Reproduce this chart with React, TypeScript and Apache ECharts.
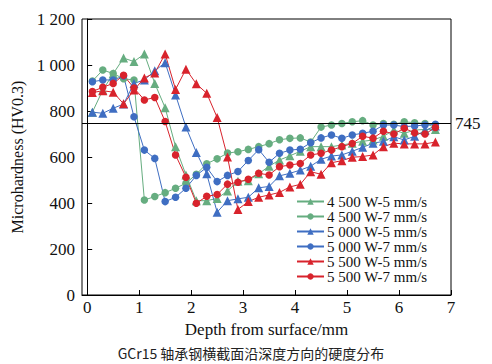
import React, { useEffect, useRef } from "react";
import * as echarts from "echarts";

const depth = [0.1, 0.3, 0.5, 0.7, 0.9, 1.1, 1.3, 1.5, 1.7, 1.9, 2.1, 2.3, 2.5, 2.7, 2.9, 3.1, 3.3, 3.5, 3.7, 3.9, 4.1, 4.3, 4.5, 4.7, 4.9, 5.1, 5.3, 5.5, 5.7, 5.9, 6.1, 6.3, 6.5, 6.7];

const g45_5 = [795, 891, 962, 1030, 1015, 1048, 920, 814, 645, 522, 410, 410, 420, 452, 495, 497, 527, 560, 587, 605, 625, 645, 645, 645, 652, 660, 668, 674, 690, 717, 703, 717, 720, 720];
const g45_7 = [930, 978, 963, 940, 935, 413, 428, 445, 464, 486, 525, 571, 592, 617, 623, 633, 645, 658, 675, 681, 683, 665, 730, 739, 746, 753, 758, 739, 746, 742, 753, 749, 746, 728];
const b50_5 = [795, 790, 812, 830, 920, 935, 975, 1010, 870, 730, 620, 527, 360, 410, 418, 425, 466, 472, 518, 529, 543, 560, 590, 604, 609, 625, 642, 660, 668, 688, 674, 690, 715, 735];
const b50_7 = [927, 935, 935, 952, 775, 630, 594, 406, 425, 464, 520, 555, 493, 520, 537, 585, 632, 577, 616, 630, 634, 662, 683, 696, 681, 696, 703, 712, 739, 739, 732, 735, 739, 742];
const r55_5 = [880, 888, 882, 831, 891, 944, 965, 1048, 894, 982, 918, 877, 772, 600, 372, 406, 425, 435, 446, 470, 481, 536, 525, 575, 584, 599, 602, 609, 645, 660, 657, 657, 657, 665];
const r55_7 = [885, 903, 920, 955, 900, 848, 859, 754, 609, 512, 399, 429, 437, 482, 490, 503, 529, 522, 558, 565, 572, 609, 616, 630, 645, 659, 690, 682, 712, 700, 725, 705, 700, 728];

const names = ["4 500 W-5 mm/s", "4 500 W-7 mm/s", "5 000 W-5 mm/s", "5 000 W-7 mm/s", "5 500 W-5 mm/s", "5 500 W-7 mm/s"];
const xTicks = [0, 1, 2, 3, 4, 5, 6, 7];
const refValue = 745;
const caption = "GCr15 轴承钢横截面沿深度方向的硬度分布";

const GREEN = "#66ad80";
const BLUE = "#3f6ec2";
const RED = "#d8232c";
const SERIF = "Times New Roman, Liberation Serif, DejaVu Serif, serif";

export default function App() {
  const ref = useRef<HTMLDivElement>(null);
  useEffect(() => {
    if (!ref.current) return;
    const chart = echarts.init(ref.current, null, { renderer: "svg" });
    const mk = (name: string, data: number[], color: string, symbol: string, extra: any = {}) => ({
      name,
      type: "line",
      data: depth.map((d, i) => [d, data[i]]),
      symbol,
      symbolSize: symbol === "circle" ? 7.5 : 9,
      lineStyle: { color, width: 1 },
      itemStyle: { color },
      ...extra,
    });
    chart.setOption({
      animation: false,
      textStyle: { fontFamily: SERIF },
      title: {
        text: caption,
        left: 246,
        textAlign: "center",
        top: 341,
        textStyle: { fontFamily: "Noto Sans CJK SC", fontSize: 14, fontWeight: "normal", color: "#222" },
      },
      grid: { left: 82, right: 41, top: 19, bottom: 69, show: true, borderColor: "#000", borderWidth: 1 },
      legend: {
        orient: "vertical",
        left: 291,
        top: 189,
        itemWidth: 27,
        itemHeight: 8,
        itemGap: 0,
        data: names,
        textStyle: { fontFamily: SERIF, fontSize: 15, color: "#111", padding: [0, 0, 0, -2] },
      },
      xAxis: {
        type: "value",
        min: -0.1,
        max: 7,
        name: "Depth from surface/mm",
        nameLocation: "middle",
        nameGap: 21,
        nameTextStyle: { fontFamily: SERIF, fontSize: 17, color: "#111" },
        axisLine: { lineStyle: { color: "#000", width: 1 } },
        axisTick: { inside: true, length: 5, customValues: xTicks, lineStyle: { color: "#000" } },
        axisLabel: { customValues: xTicks, fontFamily: SERIF, fontSize: 17, color: "#111", margin: 4 },
        splitLine: { show: false },
      },
      yAxis: {
        type: "value",
        min: 0,
        max: 1200,
        interval: 200,
        name: "Microhardness (HV0.3)",
        nameLocation: "middle",
        nameGap: 54,
        nameTextStyle: { fontFamily: SERIF, fontSize: 16, color: "#111" },
        axisLine: { show: true, lineStyle: { color: "#000", width: 1 } },
        axisTick: { show: true, inside: true, length: 5, lineStyle: { color: "#000" } },
        axisLabel: {
          fontFamily: SERIF,
          fontSize: 17,
          color: "#111",
          margin: 7,
          formatter: (v: number) => (v >= 1000 ? `${Math.floor(v / 1000)} ${String(v % 1000).padStart(3, "0")}` : `${v}`),
        },
        splitLine: { show: false },
      },
      series: [
        mk(names[0], g45_5, GREEN, "triangle", {
          markLine: {
            silent: true,
            symbol: "none",
            data: [{ yAxis: refValue }],
            lineStyle: { color: "#000", type: "solid", width: 1 },
            label: { position: "end", formatter: `${refValue}`, fontFamily: SERIF, fontSize: 17, color: "#111", distance: 4 },
          },
        }),
        mk(names[1], g45_7, GREEN, "circle"),
        mk(names[2], b50_5, BLUE, "triangle"),
        mk(names[3], b50_7, BLUE, "circle"),
        mk(names[4], r55_5, RED, "triangle"),
        mk(names[5], r55_7, RED, "circle"),
      ],
    });
    return () => chart.dispose();
  }, []);
  return <div ref={ref} style={{ position: "fixed", left: 0, top: 0, width: 492, height: 364, background: "#fff" }} />;
}
